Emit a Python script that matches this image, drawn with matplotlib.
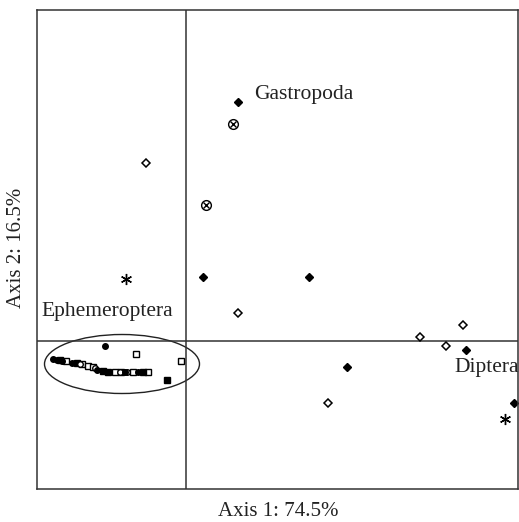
"""
Ordination plot (axis 1 vs axis 2) with taxon labels
"""

from matplotlib import pyplot as plt
from matplotlib.patches import Ellipse

plt.rcParams['font.family'] = ['Liberation Serif', 'DejaVu Serif']

# Site / taxon scores
filled_diamond_x = [0.52, 0.17, 1.23, 1.61, 2.80, 3.28]
filled_diamond_y = [2.39, 0.64, 0.64, -0.26, -0.09, -0.62]
open_diamond_x = [-0.40, 0.52, 2.34, 2.60, 2.77, 1.42]
open_diamond_y = [1.78, 0.28, 0.04, -0.05, 0.16, -0.62]
crossed_x = [0.47, 0.20]
crossed_y = [2.17, 1.36]
star_x = [-0.60, 3.19]
star_y = [0.62, -0.78]
filled_circle_x = [-0.81, -1.33, -1.29, -1.24, -1.14, -0.89, -0.61, -0.48]
filled_circle_y = [-0.05, -0.18, -0.19, -0.20, -0.22, -0.29, -0.31, -0.31]
open_square_x = [-0.50, -0.05, -1.20, -1.04, -0.98, -0.93, -0.71, -0.65, -0.53, -0.38]
open_square_y = [-0.13, -0.20, -0.20, -0.23, -0.25, -0.26, -0.31, -0.31, -0.31, -0.31]
filled_square_x = [-0.19, -1.26, -1.09, -0.83, -0.78, -0.43]
filled_square_y = [-0.39, -0.19, -0.22, -0.30, -0.31, -0.31]
open_circle_x = [-1.06, -0.91, -0.66, -0.59]
open_circle_y = [-0.23, -0.27, -0.31, -0.31]

labels = ['Gastropoda', 'Ephemeroptera', 'Diptera']
label_x = [0.68, -1.45, 2.68]
label_y = [2.46, 0.29, -0.27]

fig = plt.figure(figsize=(5.19, 5.22), dpi=100)
ax = fig.add_axes([0.0713, 0.0632, 0.9267, 0.9177])

ax.axhline(0, color='#333333', linewidth=1.1)
ax.axvline(0, color='#333333', linewidth=1.1)

ax.add_patch(Ellipse((-0.64, -0.23), 1.55, 0.59, fill=False,
                     edgecolor='#222222', linewidth=1.0))

ax.plot(filled_diamond_x, filled_diamond_y, 'D', ms=4.5, color='black',
        linestyle='none')
ax.plot(open_diamond_x, open_diamond_y, 'D', ms=4.5, mfc='white', mec='black',
        mew=1.1, linestyle='none')
ax.plot(crossed_x, crossed_y, 'o', ms=7, mfc='white', mec='black', mew=1.0,
        linestyle='none')
ax.plot(crossed_x, crossed_y, 'x', ms=4.5, color='black', mew=1.0,
        linestyle='none')
ax.plot(star_x, star_y, marker=(6, 2, 0), ms=8, color='black', mew=1.0,
        linestyle='none')
ax.plot(open_square_x, open_square_y, 's', ms=4, mfc='white', mec='black',
        mew=1.0, linestyle='none')
ax.plot(filled_square_x, filled_square_y, 's', ms=4, color='black',
        linestyle='none')
ax.plot(open_circle_x, open_circle_y, 'o', ms=4, mfc='white', mec='black',
        mew=1.0, linestyle='none')
ax.plot(filled_circle_x, filled_circle_y, 'o', ms=4, color='black',
        linestyle='none')

for lab, lx, ly in zip(labels, label_x, label_y):
    ax.text(lx, ly, lab, fontsize=15.5, va='center', ha='left', color='#222222')

ax.set_xlim(-1.49, 3.32)
ax.set_ylim(-1.48, 3.31)
ax.set_xticks([])
ax.set_yticks([])
for spine in ax.spines.values():
    spine.set_color('#333333')
    spine.set_linewidth(1.1)

fig.text(0.536, 0.021, 'Axis 1: 74.5%', fontsize=15, ha='center', va='center',
         color='#222222')
fig.text(0.031, 0.525, 'Axis 2: 16.5%', fontsize=15, ha='center', va='center',
         rotation=90, color='#222222')

plt.savefig('out.png', dpi=100)
